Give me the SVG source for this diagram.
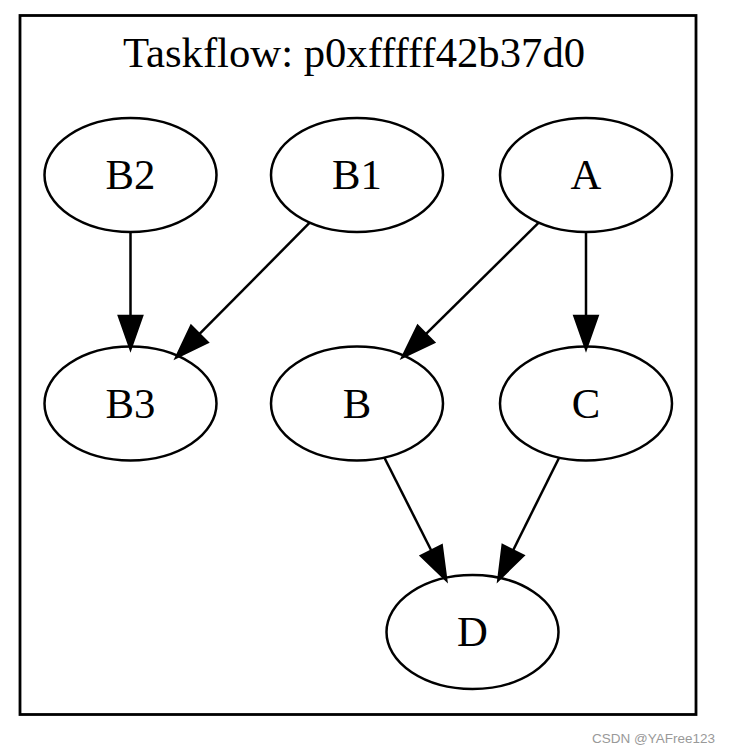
<svg xmlns="http://www.w3.org/2000/svg" width="730" height="754" viewBox="0 0 730 754">
<style>
.n ellipse{fill:none;stroke:#000;stroke-width:2.5}
.n text,.t{font-family:"Liberation Serif","Times New Roman",serif;font-size:42.7px;fill:#000;text-anchor:middle}
.e line{stroke:#000;stroke-width:2.5}
</style>
<defs>
<marker id="ah" markerUnits="userSpaceOnUse" markerWidth="40" markerHeight="30" viewBox="-2 -14 36 28" refX="0" refY="0" orient="auto">
<path d="M0,-10.7 L30.5,0 L0,10.7 Z" fill="#000" stroke="#000" stroke-width="2.5" stroke-linejoin="miter"/>
</marker>
</defs>
<rect x="20" y="15.5" width="676" height="699" fill="#fff" stroke="#000" stroke-width="2.8"/>
<text class="t" x="354" y="67">Taskflow: p0xfffff42b37d0</text>
<g id="edges" class="e">
<line x1="130.5" y1="232" x2="130.5" y2="316" marker-end="url(#ah)"/>
<line x1="309.7" y1="222.7" x2="199.3" y2="334.2" marker-end="url(#ah)"/>
<line x1="538.7" y1="222.7" x2="425.8" y2="334.2" marker-end="url(#ah)"/>
<line x1="586" y1="232" x2="586" y2="316" marker-end="url(#ah)"/>
<line x1="384.3" y1="457.5" x2="431.4" y2="550.8" marker-end="url(#ah)"/>
<line x1="559.1" y1="457.7" x2="513.0" y2="550.5" marker-end="url(#ah)"/>
</g>
<g id="B2" class="n"><ellipse cx="130.5" cy="175" rx="86" ry="57"/><text x="130.5" y="189">B2</text></g>
<g id="B1" class="n"><ellipse cx="357" cy="175" rx="86" ry="57"/><text x="357" y="189">B1</text></g>
<g id="A" class="n"><ellipse cx="586" cy="175" rx="86" ry="57"/><text x="586" y="189">A</text></g>
<g id="B3" class="n"><ellipse cx="130.5" cy="403.5" rx="86" ry="57"/><text x="130.5" y="417.5">B3</text></g>
<g id="B" class="n"><ellipse cx="357" cy="403.5" rx="86" ry="57"/><text x="357" y="417.5">B</text></g>
<g id="C" class="n"><ellipse cx="586" cy="403.5" rx="86" ry="57"/><text x="586" y="417.5">C</text></g>
<g id="D" class="n"><ellipse cx="472.5" cy="632" rx="86" ry="57"/><text x="472.5" y="646">D</text></g>
<text x="715" y="743" font-family="Liberation Sans, Arial, sans-serif" font-size="13.5" fill="#999" text-anchor="end">CSDN @YAFree123</text>
</svg>
